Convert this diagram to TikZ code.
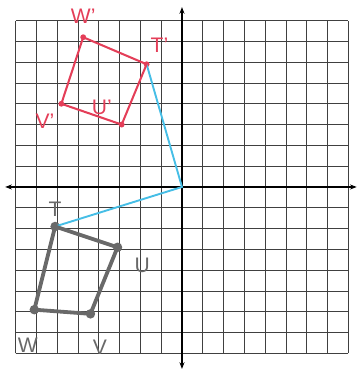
\documentclass[tikz,border=0pt]{standalone}
\usepackage{fontspec}
\setsansfont{Liberation Sans}
\usetikzlibrary{arrows.meta, positioning}
\definecolor{cred}{RGB}{228,62,88}
\definecolor{cgray}{RGB}{105,105,105}
\definecolor{cblue}{RGB}{70,190,230}

\begin{document}
\begin{tikzpicture}[
    x=0.5cm, y=0.5cm,
    >={Stealth[length=1.6mm]},
    gridline/.style={black!75, line width=0.55pt, step={(1,1)}},
    axis/.style={black, line width=0.9pt, <->},
    redpt/.style={circle, fill=cred, inner sep=0pt, minimum size=4pt},
    graypt/.style={circle, fill=cgray, inner sep=0pt, minimum size=6.5pt},
    redlbl/.style={cred, font=\sffamily\Large, inner sep=1pt},
    graylbl/.style={cgray, font=\sffamily\Large, inner sep=1pt},
]
    \useasboundingbox (-8.75,-8.8) rectangle (8.41,8.99);

    % grid and axes
    \draw[gridline] (-8,-8) grid (8,8);
    \coordinate (xl) at (-8.5,0);
    \coordinate (xr) at (8.4,0);
    \coordinate (yb) at (0,-8.75);
    \coordinate (yt) at (0,8.65);
    \coordinate (O) at (0,0);
    \draw[axis] (xl) -- (xr);
    \draw[axis] (yb) -- (yt);

    % vertices
    \node[graypt] (T) at (-6.1,-1.9) {};
    \node[graypt] (U) at (-3.1,-2.9) {};
    \node[graypt] (V) at (-4.4,-6.1) {};
    \node[graypt] (W) at (-7.1,-5.9) {};
    \node[redpt] (Tp) at (-1.7,5.9) {};
    \node[redpt] (Up) at (-2.9,3.0) {};
    \node[redpt] (Vp) at (-5.8,4.0) {};
    \node[redpt] (Wp) at (-4.75,7.2) {};

    % rotation path
    \draw[cblue, line width=1.3pt] (Tp.center) -- (O) -- (T.center);

    % shapes
    \draw[cgray, line width=2.6pt, line join=round] (T.center) -- (U.center) -- (V.center) -- (W.center) -- cycle;
    \draw[cred, line width=1.4pt, line join=round] (Tp.center) -- (Up.center) -- (Vp.center) -- (Wp.center) -- cycle;

    % labels
    \node[graylbl, above=2pt of T] (lT) {T};
    \node[graylbl, below right=4pt and 8pt of U] (lU) {U};
    \node[graylbl, below right=14pt and -2pt of V] (lV) {V};
    \node[graylbl, below left=16pt and -6pt of W] (lW) {W};
    \node[redlbl, above right=5pt and 0pt of Tp] (lTp) {T'};
    \node[redlbl, above left=4pt and 4pt of Up] (lUp) {U'};
    \node[redlbl, below left=4pt and 2pt of Vp] (lVp) {V'};
    \node[redlbl, above=6pt of Wp] (lWp) {W'};
\end{tikzpicture}
\end{document}
